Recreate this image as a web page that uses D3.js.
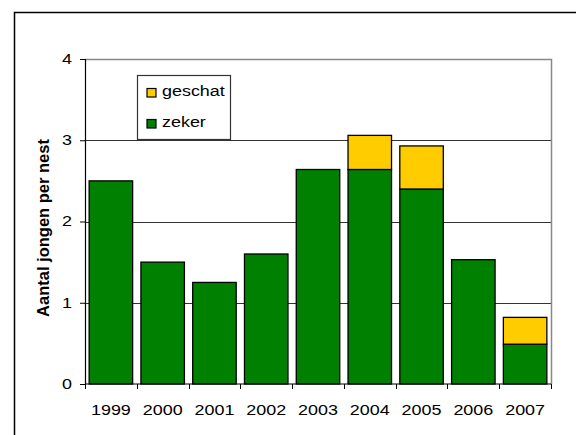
<!DOCTYPE html>
<html>
<head>
<meta charset="utf-8">
<script src="https://cdn.jsdelivr.net/npm/d3@7"></script>
<style>
  body { margin: 0; background: #fff; }
  text { font-family: Arial, "Liberation Sans", sans-serif; fill: #000; }
</style>
</head>
<body>
<svg width="576" height="435"></svg>
<script>
// data
var years = ["1999", "2000", "2001", "2002", "2003", "2004", "2005", "2006", "2007"];
var zeker = [2.5, 1.5, 1.25, 1.6, 2.64, 2.64, 2.4, 1.53, 0.49];
var geschat = [0, 0, 0, 0, 0, 0.42, 0.53, 0, 0.33];
var yTicks = [0, 1, 2, 3, 4];
var seriesNames = ["zeker", "geschat"];
var colors = {zeker: "#008000", geschat: "#ffcc00"};

var svg = d3.select("svg"),
    margin = {top: 59, right: 25, bottom: 51, left: 85},
    width = +svg.attr("width") - margin.left - margin.right,
    height = +svg.attr("height") - margin.top - margin.bottom;

// stretch text horizontally like the original
function stretch(sel, k) {
    sel.each(function () {
        var len = this.getComputedTextLength();
        d3.select(this).attr("textLength", len * k).attr("lengthAdjust", "spacingAndGlyphs");
    });
}

// outer frame (clipped at right and bottom)
svg.append("rect")
    .attr("x", 14.5).attr("y", 12.5)
    .attr("width", 600).attr("height", 500)
    .attr("fill", "none").attr("stroke", "#000").attr("stroke-width", 1.5);

var rows = years.map(function (y, i) {
    return {year: y, zeker: zeker[i], geschat: geschat[i]};
});
var stacked = d3.stack().keys(seriesNames)(rows);

var x = d3.scaleBand().domain(years).range([0, width]).paddingInner(0.16).paddingOuter(0.08),
    y = d3.scaleLinear().domain([0, 4]).range([height, 0]);

var g = svg.append("g")
    .attr("transform", "translate(" + margin.left + "," + margin.top + ")");

// gridlines
g.selectAll(".grid")
    .data(yTicks.filter(function (d) { return d > 0 && d < 4; }))
    .enter().append("line")
    .attr("x1", 0).attr("x2", width)
    .attr("y1", function (d) { return Math.round(y(d)) + 0.5; })
    .attr("y2", function (d) { return Math.round(y(d)) + 0.5; })
    .attr("stroke", "#333").attr("stroke-width", 1);

// plot area border (top, right)
g.append("path")
    .attr("d", "M0,0.5H" + (width + 0.5) + "V" + height)
    .attr("fill", "none").attr("stroke", "#888").attr("stroke-width", 1.5);

// bars
g.selectAll(".serie")
    .data(stacked)
    .enter().append("g")
    .attr("fill", function (d) { return colors[d.key]; })
    .selectAll("rect")
    .data(function (d) { return d.filter(function (p) { return p[1] - p[0] > 0; }); })
    .enter().append("rect")
    .attr("x", function (d) { return x(d.data.year); })
    .attr("y", function (d) { return y(d[1]); })
    .attr("width", x.bandwidth())
    .attr("height", function (d) { return y(d[0]) - y(d[1]); })
    .attr("stroke", "#000").attr("stroke-width", 1.3);

// y axis
var yAxis = g.append("g")
    .call(d3.axisLeft(y).tickValues(yTicks).tickSize(5).tickPadding(8).tickFormat(d3.format("d")));
yAxis.select(".domain").attr("stroke", "#000").attr("stroke-width", 1.2);
yAxis.selectAll("text").attr("font-size", 14).attr("font-family", "Arial, 'Liberation Sans', sans-serif").call(stretch, 1.28);

// x axis labels
var xAxis = g.append("g")
    .attr("transform", "translate(0," + height + ")")
    .call(d3.axisBottom(x).tickSize(0).tickPadding(21));
xAxis.select(".domain").remove();
xAxis.selectAll("text").attr("font-size", 14).attr("font-family", "Arial, 'Liberation Sans', sans-serif").call(stretch, 1.28);

// x axis line and category boundary ticks
g.append("line")
    .attr("x1", 0).attr("x2", width)
    .attr("y1", height).attr("y2", height)
    .attr("stroke", "#000").attr("stroke-width", 1.2);
g.selectAll(".xtick")
    .data(d3.range(years.length + 1))
    .enter().append("line")
    .attr("x1", function (i) { return Math.round(i * x.step()) + 0.5; })
    .attr("x2", function (i) { return Math.round(i * x.step()) + 0.5; })
    .attr("y1", height).attr("y2", height + 5)
    .attr("stroke", "#000");

// y title
svg.append("text")
    .attr("transform", "translate(49,228) rotate(-90)")
    .attr("text-anchor", "middle")
    .attr("font-size", 16.5)
    .attr("font-weight", "bold")
    .text("Aantal jongen per nest");

// legend
var legend = svg.append("g").attr("transform", "translate(137,75)");
legend.append("rect")
    .attr("x", 0.5).attr("y", 0.5).attr("width", 93).attr("height", 64)
    .attr("fill", "#fff").attr("stroke", "#333").attr("stroke-width", 1.2);
var items = legend.selectAll(".item")
    .data(["geschat", "zeker"])
    .enter().append("g")
    .attr("transform", function (d, i) { return "translate(0," + (i * 31) + ")"; });
items.append("rect")
    .attr("x", 10).attr("y", 13.5).attr("width", 9).attr("height", 8.5)
    .attr("fill", function (d) { return colors[d]; })
    .attr("stroke", "#000").attr("stroke-width", 1.2);
items.append("text")
    .attr("x", 25).attr("y", 21)
    .attr("font-size", 14)
    .text(function (d) { return d; })
    .call(stretch, 1.28);
</script>
</body>
</html>
